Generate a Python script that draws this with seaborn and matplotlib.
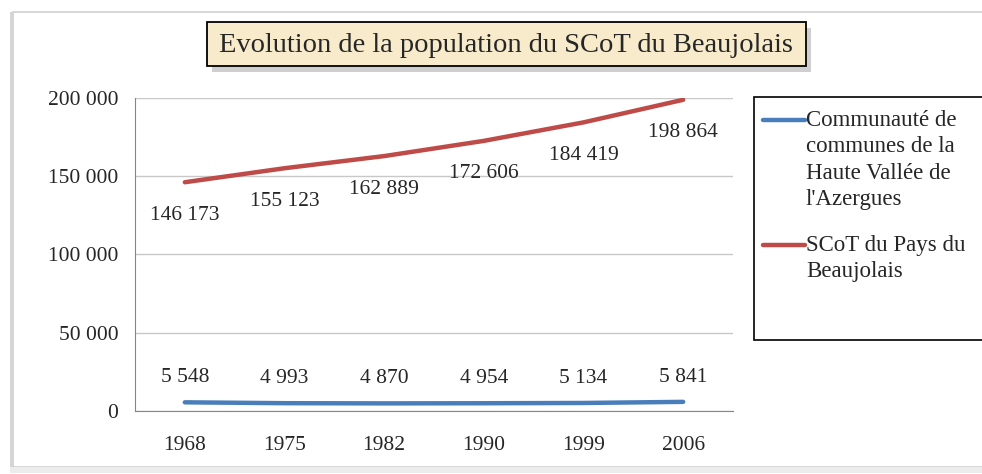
import pandas as pd
import numpy as np
import seaborn as sns
import matplotlib.pyplot as plt
from matplotlib.patches import Rectangle
from matplotlib.lines import Line2D
from matplotlib.ticker import FuncFormatter

# data
annees = ["1968", "1975", "1982", "1990", "1999", "2006"]
cc_azergues = [5548, 4993, 4870, 4954, 5134, 5841]
scot_beaujolais = [146173, 155123, 162889, 172606, 184419, 198864]
noms = ["Communauté de\ncommunes de la\nHaute Vallée de\nl'Azergues",
        "SCoT du Pays du\nBeaujolais"]
couleurs = ["#4A7EBB", "#BE4B48"]

df = pd.DataFrame({
    "annee": list(range(len(annees))) * 2,
    "population": cc_azergues + scot_beaujolais,
    "serie": [noms[0]] * len(annees) + [noms[1]] * len(annees),
})

sns.set_style("white")
plt.rcParams['font.family'] = ['Liberation Serif', 'DejaVu Serif']

W, H = 982, 474
fig = plt.figure(figsize=(W / 100, H / 100), dpi=100)
ax = fig.add_axes([135 / W, 1 - 411 / H, (733 - 135) / W, (411 - 98) / H])

def fx(px):
    return px / W

def fy(py):
    return 1 - py / H

# outer chart frame (gray border with soft shadow)
fig.patches.append(Rectangle((fx(13), fy(467)), 1.0, (467 - 12) / H,
                             transform=fig.transFigure, fill=False,
                             edgecolor="#cfcfcf", lw=1.2))
fig.patches.append(Rectangle((fx(10), fy(470)), 3 / W, (470 - 12) / H,
                             transform=fig.transFigure, color="#d5d5d5", lw=0))
fig.patches.append(Rectangle((fx(10), fy(473)), 1.0, 6 / H,
                             transform=fig.transFigure, color="#ececec", lw=0))

sns.lineplot(data=df, x="annee", y="population", hue="serie", palette=couleurs,
             linewidth=3.2, ax=ax, legend=False)

# data labels
fmt = lambda v: f"{v:,}".replace(",", " ")
for i, v in enumerate(cc_azergues):
    ax.annotate(fmt(v), (i, v), xytext=(0, 11), textcoords="offset points",
                ha="center", va="bottom", fontsize=15.5)
for i, v in enumerate(scot_beaujolais):
    ax.annotate(fmt(v), (i, v), xytext=(0, -17), textcoords="offset points",
                ha="center", va="top", fontsize=15.5)

ax.set_xlim(-0.5, len(annees) - 0.5)
ax.set_ylim(0, 200000)
ax.set_yticks(np.arange(0, 200001, 50000))
ax.yaxis.set_major_formatter(FuncFormatter(lambda v, p: fmt(int(v))))
ax.set_xticks(range(len(annees)))
ax.set_xticklabels(annees)
ax.set_xticks(np.arange(-0.5, len(annees), 1), minor=True)
ax.tick_params(axis="x", which="major", length=0, pad=18, labelsize=15.5)
ax.tick_params(axis="x", which="minor", length=6, color="#868686", direction="out")
ax.tick_params(axis="y", length=6, color="#868686", direction="out", pad=6, labelsize=15.5)
ax.yaxis.grid(True, color="#c8c8c8", lw=1)
ax.set_axisbelow(True)
for s in ["top", "right"]:
    ax.spines[s].set_visible(False)
ax.spines["left"].set_color("#868686")
ax.spines["bottom"].set_color("#868686")
ax.set_xlabel("")
ax.set_ylabel("")

# legend box on the right (handle sits on the first text line, like Excel)
fig.patches.append(Rectangle((fx(754), fy(340)), 1.0, (340 - 97) / H,
                             transform=fig.transFigure, facecolor="white",
                             edgecolor="black", lw=1.2))
for nom, coul, y0 in zip(noms, couleurs, [120, 245]):
    fig.add_artist(Line2D([fx(763), fx(805)], [fy(y0), fy(y0)], color=coul,
                          lw=3.2, solid_capstyle="round", transform=fig.transFigure))
    fig.text(fx(806), fy(y0 - 10), nom, ha="left", va="top", fontsize=16.5,
             linespacing=1.33)

# title in a beige box with shadow
fig.patches.append(Rectangle((fx(212), fy(72)), (806 - 207) / W, (66 - 22) / H,
                             transform=fig.transFigure, color="#a8a8a8", lw=0, alpha=0.55))
fig.patches.append(Rectangle((fx(207), fy(66)), (806 - 207) / W, (66 - 22) / H,
                             transform=fig.transFigure, facecolor="#F8EBCB",
                             edgecolor="black", lw=1.3))
fig.text(fx(506), fy(45), "Evolution de la population du SCoT du Beaujolais",
         ha="center", va="center", fontsize=20.5)

fig.savefig("out.png", dpi=100)
